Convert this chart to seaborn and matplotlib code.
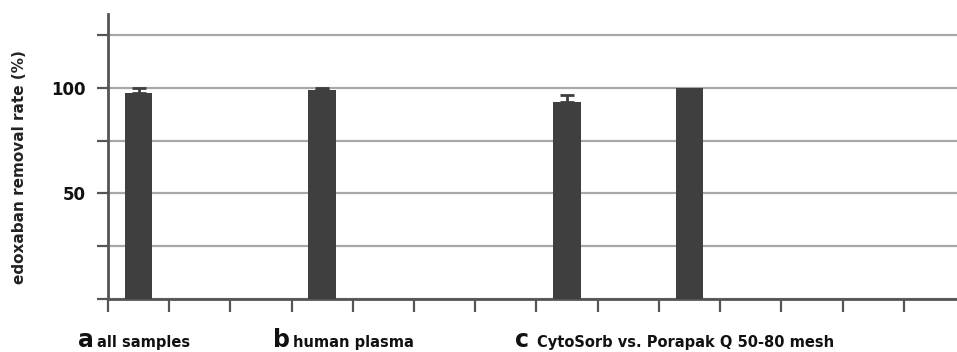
import numpy as np
import pandas as pd
import matplotlib
matplotlib.use("Agg")
import matplotlib.pyplot as plt
import seaborn as sns

# values
groups = ["all samples", "human plasma", "CytoSorb", "Porapak Q 50-80 mesh"]
slots = [0, 3, 7, 9]
removal = [97.8, 99.0, 93.5, 100.0]
err_up = [2.0, 0.8, 3.2, 0.0]
n_slots = 14

panel_letters = ["a", "b", "c"]
panel_titles = ["all samples", "human plasma", "CytoSorb vs. Porapak Q 50-80 mesh"]
panel_x = [78, 273, 515]   # pixel positions of the letters
title_x = [97, 293, 537]

bar_color = "#3f3f3f"
axis_color = "#555555"
grid_color = "#a8a8a8"


def main():
    sns.set_style("white")
    plt.rcParams["font.family"] = ["DejaVu Sans"]

    rates = [np.nan] * n_slots
    for s, v in zip(slots, removal):
        rates[s] = v
    df = pd.DataFrame({"slot": list(range(n_slots)), "rate": rates})

    fig = plt.figure(figsize=(9.57, 3.52), dpi=100)
    ax = fig.add_axes([108 / 957, 1 - 299 / 352, 1 - 108 / 957, (299 - 14) / 352])

    sns.barplot(x="slot", y="rate", data=df, order=list(range(n_slots)),
                color=bar_color, saturation=1, width=0.45, errorbar=None, ax=ax,
                linewidth=0, edgecolor=bar_color, zorder=3)

    # upper error bars only (lower half would be hidden in the bar anyway)
    ex = [s for s, e in zip(slots, err_up) if e > 0]
    ey = [v for v, e in zip(removal, err_up) if e > 0]
    ee = [e for e in err_up if e > 0]
    ax.errorbar(ex, ey, yerr=[np.zeros(len(ee)), ee], fmt="none", ecolor=bar_color,
                elinewidth=2, capsize=5, capthick=2, zorder=4)

    ax.set_ylim(0, 135)
    ax.set_xlim(-0.5, 13.37)
    ax.set_yticks(np.arange(0, 126, 25))
    ax.set_yticklabels(["", "", "50", "", "100", ""])
    ax.set_xticks(np.arange(-0.5, 13.0, 1))
    ax.set_xticklabels([])
    ax.set_xlabel("")
    ax.set_ylabel("edoxaban removal rate (%)", fontsize=11, fontweight="bold",
                  color="#222222")
    ax.yaxis.set_label_coords(-0.095, 0.463)

    ax.yaxis.grid(True, color=grid_color, linewidth=1.6, zorder=0)
    ax.set_axisbelow(True)
    ax.tick_params(axis="y", left=True, direction="out", length=8, width=1.6,
                   color=axis_color, pad=8, labelsize=12, labelcolor="#111111")
    ax.tick_params(axis="x", bottom=True, direction="out", length=9, width=1.6,
                   color=axis_color)
    for lab in ax.get_yticklabels():
        lab.set_fontweight("bold")

    sns.despine(ax=ax, top=True, right=True)
    for side in ["left", "bottom"]:
        ax.spines[side].set_color(axis_color)
        ax.spines[side].set_linewidth(2)

    # panel labels under the axis
    for letter, title, lx, tx in zip(panel_letters, panel_titles, panel_x, title_x):
        fig.text(lx / 957, 1 - 347 / 352, letter, fontsize=17, fontweight="bold",
                 color="#111111", va="baseline", ha="left")
        fig.text(tx / 957, 1 - 347 / 352, title, fontsize=10.5, fontweight="bold",
                 color="#111111", va="baseline", ha="left")

    fig.savefig("out.png", dpi=100)


if __name__ == "__main__":
    main()
